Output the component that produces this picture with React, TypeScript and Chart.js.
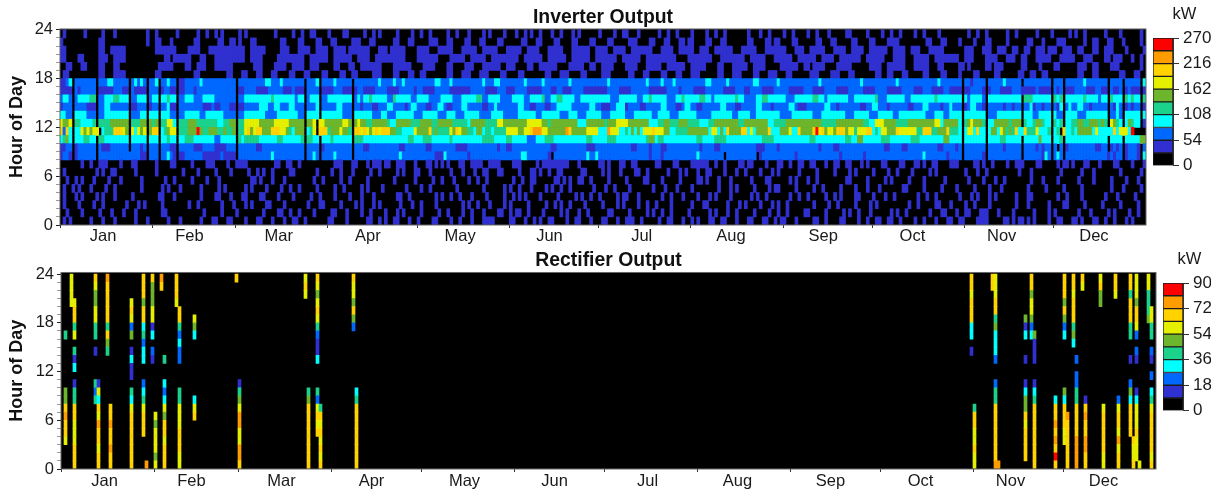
import React, { useEffect, useRef } from "react";
import { Chart, registerables } from "chart.js";

Chart.register(...registerables);

const monthNames = ["Jan","Feb","Mar","Apr","May","Jun","Jul","Aug","Sep","Oct","Nov","Dec"];
const monthStartDays = [0,31,59,90,120,151,181,212,243,273,304,334,365];
const monthLabelDays = [14,43,73,103,134,164,195,225,256,286,316,347];
const binColors = ["rgba(0,0,0,0)","#3030d0","#0068ff","#00ffff","#1ad28c","#6db52c","#e4f000","#ffd200","#ff9c00","#ff0000"];
const legendColors = ["#000000","#3030d0","#0068ff","#00ffff","#1ad28c","#6db52c","#e4f000","#ffd200","#ff9c00","#ff0000"];
const inverterBinKw = 27;
const rectifierBinKw = 9;

// Estimated colour-bin level per day, one string per hour of day (spaces are only for reading)
const inverterLevelsByHour = [
"0101000000 1000100010 0000010001 0000001000 1000000100 0110001100 0010001100 0100010011 0010000000 1100001000 0001100101 0011000100 1000011000 0100100010 0011110000 0110001001 0100110000 1001100010 0011000100 1110010000 0100110001 0010100011 0011000100 0110001100 1011000100 0001100100 0011000010 0100110011 0010000100 1000100011 0011000011 1100000110 1011010100 0010011000 1101000110 0100100010 10000",
"0010000100 0001000100 0100010000 0000110000 0000000010 0000100001 0000000010 0001100100 1000010000 0110001000 0100100001 0001010000 0100000100 1000010010 0010000110 0101100100 0010000010 1000100100 0000110000 0100000101 0010010000 0100000010 1000100100 0001000010 0100100000 1100000100 0001010010 0010000001 0100100000 0010001100 0100110001 1100010000 1000000100 0010100000 0010001000 0010100001 00100",
"0100001000 0100100000 0010001010 0000100000 0001001000 0000100010 0010100001 1000010000 0001000110 0000100001 0100010100 0000100010 0100001000 0000010100 1000100001 0100000100 0001001010 0100001000 0010000101 0000100100 1000010000 0010001100 0000100010 1000010001 0100100000 0001000010 0100000100 0010100000 0000010010 0000110001 0000100100 0010000000 0100010000 0010000110 0000100000 1000001000 00100",
"0100010100 0010100010 0000100000 0001100010 0000000100 0011000100 0110000110 0001000010 0000100100 0010000100 0100010000 0001100100 0000001010 0100100010 0001000001 0010101000 0100000100 0001010010 0100000101 1000100000 0010010001 0000100010 1000010000 0010100100 0000010010 0100000100 1010000110 0001000100 1000000010 0100100000 0010001010 0010100000 0100011000 0000010010 0001000000 0100010000 01000",
"0100101000 1000010010 0000000100 0000101000 1000000100 0001010000 0010100001 0000100100 1000001000 0010010000 0101000010 0000001000 0100100000 0001000000 0010000001 0100100010 0001010010 0100000001 0001001000 0100000001 0001000100 0010000000 0100010100 0001000010 1100000100 0001001000 0010000100 0100010000 0001100000 1000001000 0100000100 0010001000 0000010000 0100000100 0001000000 0001000100 00010",
"0010010100 0100001000 1000000100 0000010010 0000100001 0001000000 0000110100 0100010000 0000010010 0000100100 0001000000 0010000001 0000010010 0010000100 1001000000 0010010011 0000001101 0100110010 0000100000 1000001100 0010000010 0000110100 0100010000 0010000110 0000010100 0100100000 0000110000 0100000101 0000010000 1000000100 0000010000 1000100100 0000001000 1000010000 0010000100 0001000010 00100",
"0100000000 0010100110 0000010000 0010000000 0100001000 0010000100 0001001010 0100000110 0000001000 0100100010 0000100100 0001010001 1000100000 0100010001 0011000110 0000100011 0100100110 0000011000 0010100010 0001100100 0000100010 1000100110 0001000100 1000010001 0100000010 0000100000 1000010100 0001000010 0100001000 0010100000 0000100010 0100000000 0010001000 0000001000 0001000100 0000001000 00010",
"0000000100 1001110000 1000110000 0010000110 0000100001 1100001001 1110000000 0011001100 1000000000 0011100011 0001011101 1001110001 0001101010 1000110011 1100111100 0011100000 1011111111 1000100000 0110100011 0011000000 1100001100 0011111100 1001000011 0110000100 0110010011 0011000100 1100110001 0100001100 0011000110 1001100001 1100000110 1001000010 0111000011 0000010110 1000110001 0000110000 10001",
"1221012222 2202222222 2222222110 2220223210 1122222211 1111211110 2222222222 2322222222 2202232022 2232222202 2222222222 2222322222 2222221113 2222222122 2222222222 2222233222 2222102222 2222222322 3222222222 2222222212 2212222222 2222322222 2220222222 2222012222 2222222122 2222222222 2212222222 1222222222 2222222222 3222222212 2220222222 1022222222 2220222222 1320232022 2222222222 2212122012 22103",
"1122012222 2202111222 2220222120 2220222110 2222211122 2211112220 2222221122 2222222222 2202222012 2222222202 2211222222 2222112222 2221122222 2221111222 2222222122 1122222222 2222211222 2222222111 2222222222 2211222212 2211222222 2222212222 1122222222 2222111222 2122222222 2222212222 1122222222 2222222112 2221122222 2222211222 2120222222 2022222122 2220222212 1220202012 2222222211 2201212012 22102",
"3453033344 3304433333 3330333330 3330334330 3344433333 3322333330 4344444333 3334433333 3404433033 3433333304 4433333333 3333333443 3344433333 3433333333 3344443333 4433333222 3334443333 3333333443 3333444333 3333333455 3443333333 3333443333 4444333333 3333334444 3333333333 3344333333 3333443355 3333334443 3333334443 3333333553 3330333333 3033334433 3330333335 3330334033 3333333333 3303333033 33355",
"7273033656 5660344477 7650636560 5770345660 4445559544 5554454450 4467567755 5777665435 5503460777 4555655407 7676567677 7554 4333365555745 4444657655 44355344 3444466665566 7888665555 5587555556666333 8666334353 5366676665533 4444555555536635 3755557736 35555733 3555633755557967566 5777566466677343 6655576666664477 7445557444 3036637330 3553654547 3374446333 4034073343 5555536333 3373666390",
"6556044333 3404444555 5550444550 5450446630 4445554444 4443344550 4466666555 5566666555 5505560665 5555566505 6554455555 4335555544 4555544555 5544444355 5554444665 5555555666 6655455555 5555333555 5554555666 6555555533 3445544455 5444433344 5555555544 5555555533 4444555555 5555554444 4555555555 4433666555 5444455555 5555663555 5530456555 4033555554 5550433455 4330434033 4455445554 5406543035 43301",
"3322033332 2202233333 3330222330 3330333220 2233333223 3333322220 2233333332 2223333333 2203333033 3333322203 3333322233 2223333332 2233333222 3332223333 3222233332 2222333333 2233333322 2333222333 3322233333 2223333332 2333322233 3333222223 3333332233 3322333333 3322223333 3332223333 3333222333 3322233333 2233333333 3222333223 3330333333 3022233333 3330333223 3330322033 3322233333 3302232033 33303",
"1222022221 1102233222 2220112220 1220223110 2222222211 1211222110 1122222333 2233222332 2202223022 2223322202 2122211222 3322221233 2221122332 1122233222 2211223222 2222332211 2221122333 3322222233 2211122333 1222211222 2233222112 3322112222 2233222112 2222332221 2222233211 1222222332 2122222221 1223322212 2222211222 3322221223 2220123322 1022222122 1220223122 1220213023 2233221222 2202132012 12201",
"2332023333 4402233344 3330223330 2330334330 2233322233 3322222220 2233333333 3433333332 3302333022 3333333302 3233433333 2243333322 3333222233 3322233333 4422333322 2233332233 3342233443 3332233333 3333322233 3333223343 3333222334 3333344332 3333333433 2222334433 3333222333 3334433233 3333322333 3333422233 3333223333 3333433333 3330323333 2033333333 3330444333 3330434033 3333433332 3304333043 43304",
"1111021222 2201111122 2110211110 2220122110 1122212222 2222222220 1122221111 2222211121 1102222011 1122211101 2211112222 1111222221 2211112222 2111111122 2221111222 1112222111 1122211221 1122221111 1111222211 1122222211 1111222212 2221111222 2221111222 1122221111 2222211111 2221111222 2111122222 1111222211 1112222111 2221111221 1110112222 1012221111 2221111121 1110212011 1222211122 1102112012 11101",
"1123022222 2202223322 2220232320 2230223220 1122222322 2222222220 2222222223 3222322222 2202223022 2232222202 2222222322 2232232222 2222223322 2322222222 2232223322 2222223222 2232222222 2322222222 2222322222 2222222322 2232223222 2222222332 2222322222 2223322222 2322222222 2222232222 2222222223 2222222222 2322222222 2222232222 2220221222 2022222322 2220222222 2220222022 2222322222 2202222022 22203",
"0110000000 0001100011 1100000000 0011000000 0000011000 0000001100 0110001100 0110000110 0011000011 0000110011 0000011100 0011000110 0110000000 1100011100 0111000011 0000110000 0001100011 1000011000 0011100000 0110001100 0011000110 0011100000 0110001110 0001100011 1000110000 0011100001 1100011000 0000110011 0001100000 1100001100 0010000110 0000110000 0011001100 1100000000 0011000110 0000001100 01100",
"0011000110 0001100011 0000000000 0001111100 0011001110 0011111100 0000011100 0011110011 1100111000 0011000110 0111111100 0011111100 0011110000 1100001110 0011111100 1110000110 0111111000 0111110011 0011110000 1111000111 1100111111 0011111000 0110001111 1001111000 0011111100 1101111000 0111110000 0011110011 1111000111 1100011000 0011010000 0110111000 0001100001 0000110000 0011100110 0001110000 00010",
"1100001100 0001110011 1100000000 0000011011 1111000110 0011111111 1100111100 0001111111 1100111111 0011111100 1111001111 1111110000 1111111000 0111110011 1110011111 1111001111 1100111111 0011111100 1111111001 1111100111 1111111000 0111111110 0011111111 0011111000 1111110011 1111001111 0011111110 0111111000 1111000111 1100111111 1100111000 0111100011 1001100011 1110001111 1000111000 0110111000 10010",
"1100000000 0001100111 1100000000 0011111110 0001111000 1111111111 1100111110 0000111000 1111001111 0011110111 1111000111 0111110000 1111000111 1100011111 0011111000 1111100111 1000111110 0011111100 1111001111 0011111110 0011110011 1110011100 1111110001 1111000111 1111000111 0011111000 1111001111 0011111100 1111001110 0011111000 0000111000 1110011100 1100110011 1011100111 0011000110 0111000010 00001",
"1000000000 0001100000 0000000001 0011000100 0000011000 0001100110 1000110000 0000110000 1100001100 0110000011 1000110000 0011000110 0000111000 1100001100 0110000110 0000011000 1100001100 0011000011 0000110000 0111000011 0001100011 0110000110 0011000000 0110000110 1100001100 0000110001 1000001100 0011000011 1100000000 0110001100 0010000100 0110000010 0000011000 1000011100 0000100110 0011000100 00010",
"0100000010 0000100010 0000000001 0010000001 0000001001 0010100000 1010000000 0010000010 0100110000 1000011000 0010010100 0001000010 0100100000 1001000100 0010100001 0001001010 0100010010 0010100000 0100001001 1000100000 0100100100 0010000100 1001000000 0100010010 0001001000 0100100010 0000110000 0100001001 0010000100 1000010000 0000010010 0100000010 0100000010 0001000001 0100100000 0100001000 00010",
];

// Rectifier is off most of the year: the days it ran, and each day's levels for hours 0..23 ("." = 0)
const rectifierDays = [1,3,4,11,12,15,16,23,27,28,30,31,33,34,38,39,44,58,59,81,82,85,86,97,98,303,304,310,311,312,321,323,324,331,334,335,337,338,340,341,346,347,351,352,356,357,358,359,362,363];
const rectifierLevels = [
"...677 8755.. ....4. ......",
"...... ...... ...... ..6666",
"777666 77441. 314.64 776...",
"...... ..424. ..1.44 665567",
"776778 67361. ...... ......",
"...... ...... ..4574 777778",
"778778 77.... ...... ......",
"777777 7634.1 131.52 676...",
"....77 76432. .33243 775777",
"8..... ...... ...... ......",
"...... ...... .12.31 665557",
"656665 6..... ...... ......",
"...... ...... ...... ....78",
"777677 56323. .4.... ......",
"...... ...... ...... ..6777",
"667776 6644.. .22324 77....",
"...... 763... ....35 6.....",
"...... ...... ...... .....7",
"788668 86541. ...... ......",
"...... ...... ...... ...676",
"777777 7754.. ...... ......",
"....76 7624.. .31124 676567",
"767676 74.... ...... ......",
"...... ...... .....2 575667",
"777777 7743.. ...... ......",
"...... ...... ..1.33 777677",
"667667 74.... ...... ......",
"...... ...... ...... ....77",
"877777 77442. .23335 477666",
"8..... ...... ...... ......",
".77776 75531. .1..31 5.....",
"...... ...... ....32 566577",
"777777 77431. .1115. ......",
"797878 773... ...... ......",
"...667 7735.. ....32 575777",
"777777 8..... ...... ......",
"...... ...... ...354 777677",
"888877 774422 .2.... ......",
"...... ...... ...... ....67",
"778877 871... ...... ......",
"...... ...... ...... ..5576",
"667777 76.... ...... ......",
"...... ...... ...... ...677",
"776867 762... ...... ......",
"....77 77352. .1..44 777477",
"7667.. ...... ...... ......",
".66676 6631.. .12.26 775666",
"6..... ...... ...... ......",
"...... ...... ...... 544466",
"767777 7643.2 .12.44 66....",
];

const dayLabels: number[] = Array.from({ length: 365 }, (_, i) => i + 1);
const hoursOfDay: number[] = Array.from({ length: 24 }, (_, i) => i);

function inverterKw(): number[][] {
  return inverterLevelsByHour.map((row) => {
    const s = row.replace(/\s/g, "").padEnd(365, "0").slice(0, 365);
    return Array.from(s).map((c) => (c === "0" ? 0 : (Number(c) + 0.5) * inverterBinKw));
  });
}

function rectifierKw(): number[][] {
  const grid = hoursOfDay.map(() => dayLabels.map(() => 0));
  rectifierDays.forEach((day, i) => {
    const s = rectifierLevels[i].replace(/\s/g, "");
    hoursOfDay.forEach((h) => {
      const c = s[h];
      if (c && c !== ".") grid[h][day] = (Number(c) + 0.5) * rectifierBinKw;
    });
  });
  return grid;
}

const TEXT = "#1a1a1a";
const FONT = "'Liberation Sans', Arial, sans-serif";

const plotFrame = {
  id: "plotFrame",
  beforeDatasetsDraw(chart: any) {
    const { ctx, chartArea: a } = chart;
    ctx.save();
    ctx.fillStyle = "#000000";
    ctx.fillRect(a.left, a.top, a.right - a.left, a.bottom - a.top);
    ctx.restore();
  },
  afterDatasetsDraw(chart: any) {
    const { ctx, chartArea: a } = chart;
    ctx.save();
    ctx.strokeStyle = "#666666";
    ctx.lineWidth = 1;
    ctx.strokeRect(a.left, a.top, a.right - a.left, a.bottom - a.top);
    ctx.restore();
  },
};

function makeHeatmap(
  canvas: HTMLCanvasElement,
  title: string,
  grid: number[][],
  binKw: number,
  g: { left: number; right: number; bottom: number; yMax: number; titleGap: number; labelPad: number }
) {
  const datasets = hoursOfDay.map((h) => ({
    label: String(h),
    data: dayLabels.map(() => 1),
    backgroundColor: grid[h].map((v) => binColors[Math.min(9, Math.floor(v / binKw))]),
    borderWidth: 0,
    barPercentage: 1,
    categoryPercentage: 1,
  }));
  return new Chart(canvas, {
    type: "bar",
    data: { labels: dayLabels, datasets },
    plugins: [plotFrame],
    options: {
      responsive: false,
      animation: false,
      events: [],
      layout: { padding: { top: g.titleGap, right: g.right, left: 0, bottom: 0 } },
      plugins: {
        legend: { display: false },
        tooltip: { enabled: false },
        title: {
          display: true,
          fullSize: false,
          text: title,
          color: "#111111",
          font: { family: FONT, size: 19.4, weight: "bold", lineHeight: 1.2 },
          padding: 0,
        },
      },
      scales: {
        x: {
          stacked: true,
          grid: {
            drawOnChartArea: false,
            drawTicks: true,
            tickLength: 3,
            offset: true,
            tickColor: (c: any) => (monthStartDays.includes(c.index) ? "#333333" : "rgba(0,0,0,0)"),
          },
          border: { display: false },
          ticks: {
            autoSkip: false,
            minRotation: 0,
            maxRotation: 0,
            padding: g.labelPad,
            color: TEXT,
            font: { family: FONT, size: 16.5 },
            callback: (_v: any, i: number) => {
              const m = monthLabelDays.indexOf(i);
              return m >= 0 ? monthNames[m] : "";
            },
          },
          afterFit: (s: any) => { s.height = g.bottom; },
        },
        y: {
          stacked: true,
          min: 0,
          max: g.yMax,
          grid: {
            drawOnChartArea: false,
            tickLength: 4,
            tickColor: (c: any) => (Number(c.tick && c.tick.value) % 6 === 0 ? "#222222" : "#999999"),
          },
          border: { display: false },
          title: {
            display: true,
            text: "Hour of Day",
            color: "#111111",
            font: { family: FONT, size: 18, weight: "bold", lineHeight: 1.2 },
            padding: { top: 6, bottom: 0 },
          },
          ticks: {
            stepSize: 1,
            includeBounds: false,
            autoSkip: false,
            padding: 3,
            color: TEXT,
            font: { family: FONT, size: 16.5 },
            callback: (v: any) => (Number(v) % 6 === 0 ? String(v) : ""),
          },
          afterFit: (s: any) => { s.width = g.left; },
        },
      },
    } as any,
  });
}

function makeColorbar(
  canvas: HTMLCanvasElement,
  binKw: number,
  g: { top: number; gap: number; bottom: number; axis: number }
) {
  return new Chart(canvas, {
    type: "bar",
    data: {
      labels: ["kW"],
      datasets: legendColors.map((c) => ({
        data: [binKw],
        backgroundColor: c,
        borderColor: "#1c1c1c",
        borderWidth: 1,
        borderSkipped: false,
        barPercentage: 1,
        categoryPercentage: 1,
      })),
    },
    options: {
      responsive: false,
      animation: false,
      events: [],
      layout: { padding: { top: g.top, left: 3, right: 0, bottom: g.bottom } },
      plugins: {
        legend: { display: false },
        tooltip: { enabled: false },
        title: {
          display: true,
          text: "kW",
          color: TEXT,
          font: { family: FONT, size: 16.5, weight: "normal", lineHeight: 1.2 },
          padding: { top: 0, bottom: g.gap },
        },
      },
      scales: {
        x: { display: false, stacked: true },
        y: {
          stacked: true,
          position: "right",
          min: 0,
          max: binKw * 10,
          grid: { drawOnChartArea: false, tickLength: 6, tickColor: "#333333" },
          border: { color: "#333333" },
          ticks: {
            stepSize: binKw * 2,
            padding: 4,
            color: TEXT,
            font: { family: FONT, size: 17 },
          },
          afterFit: (s: any) => { s.width = g.axis; },
        },
      },
    } as any,
  });
}

export default function App() {
  const invRef = useRef<HTMLCanvasElement>(null);
  const recRef = useRef<HTMLCanvasElement>(null);
  const invBarRef = useRef<HTMLCanvasElement>(null);
  const recBarRef = useRef<HTMLCanvasElement>(null);

  useEffect(() => {
    const charts = [
      makeHeatmap(invRef.current!, "Inverter Output", inverterKw(), inverterBinKw, {
        left: 60, right: 4, bottom: 25, yMax: 24.1, titleGap: 5.7, labelPad: -1,
      }),
      makeHeatmap(recRef.current!, "Rectifier Output", rectifierKw(), rectifierBinKw, {
        left: 61, right: 4, bottom: 21, yMax: 24.2, titleGap: 4.2, labelPad: 0,
      }),
      makeColorbar(invBarRef.current!, inverterBinKw, { top: 5, gap: 13.2, bottom: 9, axis: 43 }),
      makeColorbar(recBarRef.current!, rectifierBinKw, { top: 5, gap: 13.2, bottom: 10, axis: 33 }),
    ];
    return () => charts.forEach((c) => c.destroy());
  }, []);

  const abs = (left: number, top: number, w: number, h: number): React.CSSProperties => ({
    position: "absolute", left, top, width: w, height: h, overflow: "hidden",
  });

  return (
    <div style={{ position: "absolute", left: 0, top: 0, width: 1229, height: 490, overflow: "hidden", background: "#fff" }}>
      <div style={abs(0, 0, 1150, 250)}><canvas ref={invRef} width={1150} height={250} /></div>
      <div style={abs(0, 245, 1160, 245)}><canvas ref={recRef} width={1160} height={245} /></div>
      <div style={abs(1150, 0, 61, 180)}><canvas ref={invBarRef} width={66} height={180} /></div>
      <div style={abs(1160, 245, 51, 180)}><canvas ref={recBarRef} width={56} height={180} /></div>
    </div>
  );
}
